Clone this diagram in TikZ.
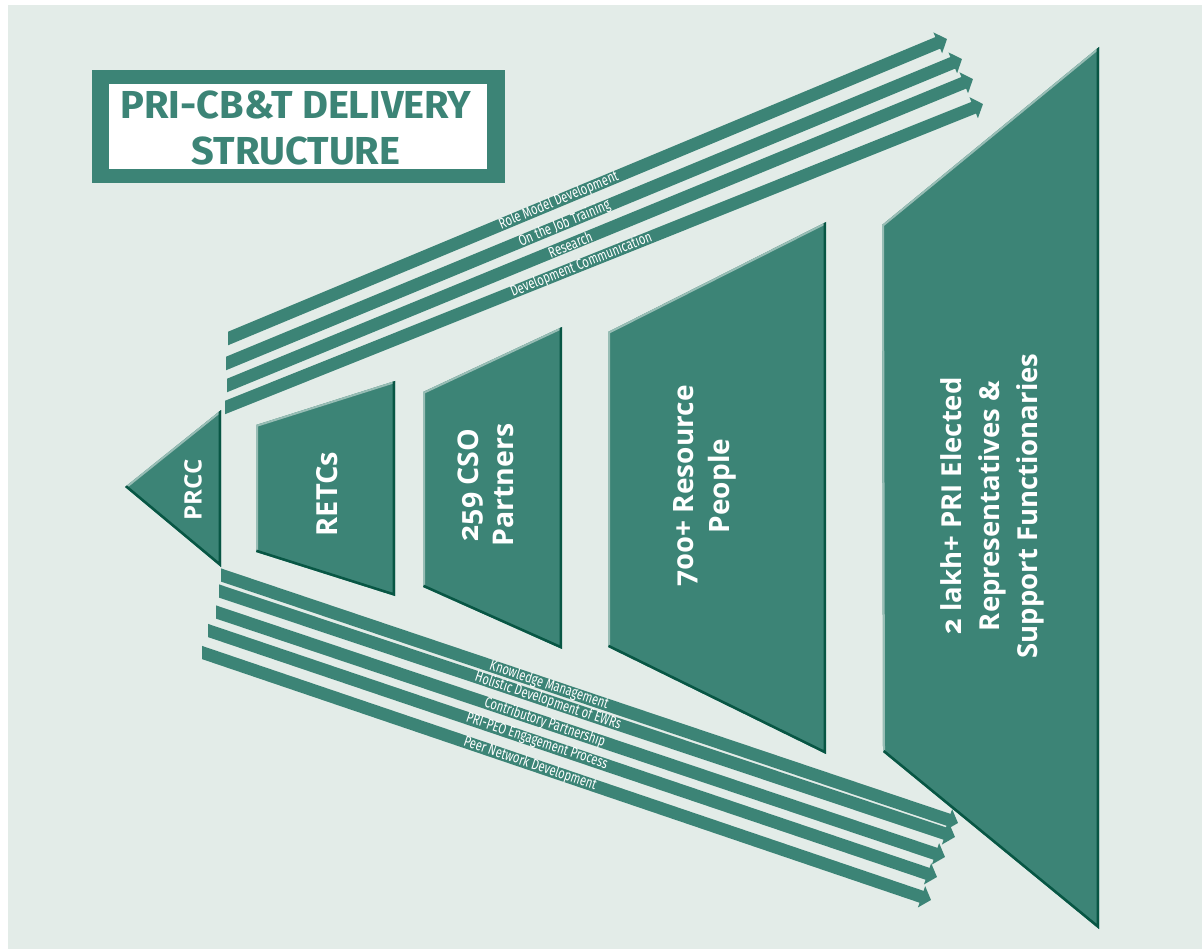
\documentclass[tikz,border=0pt]{standalone}
\usepackage{fontspec}
\usepackage{graphicx}
\setmainfont{Open Sans}[Numbers=OldStyle]
\newfontfamily\titlefont{Fira Sans}
\usetikzlibrary{arrows.meta,calc}
\definecolor{tealmain}{RGB}{60,132,118}
\definecolor{tealdark}{RGB}{8,86,68}
\definecolor{bgcol}{RGB}{227,236,232}
\newcommand\bandarrow[4]{%
  \begin{scope}
    \clip (#1,0) rectangle (1202,949);
    \draw[#4] ($(#2)!-20pt!(#3)$) -- (#3);
  \end{scope}}
\newcommand\stageshape[4]{%
  \begin{scope}
    \clip #1 -- #2 -- #3 -- #4 -- cycle;
    \fill[tealmain] #1 -- #2 -- #3 -- #4 -- cycle;
    \draw[lightedge] #4 -- #1 -- #2;
    \draw[darkedge] #4 -- #3 -- #2;
  \end{scope}}
\newcommand\lbl[1]{\scalebox{0.75}[1]{#1}}
\tikzset{
  bandup/.style={draw=tealmain, line width=12.5pt, -{Triangle[width=22pt,length=10pt]}},
  banddown/.style={draw=tealmain, line width=12.5pt, -{Triangle[width=22pt,length=10pt]}},
  bandlabel/.style={sloped, inner sep=0pt, text=white, font=\titlefont\fontsize{15}{15}\selectfont},
  darkedge/.style={draw=tealdark, line width=5pt},
  lightedge/.style={draw=tealmain!45!bgcol, line width=4pt},
  stagetext/.style={rotate=90, text=white, align=center, inner sep=0pt},
}
\begin{document}
\begin{tikzpicture}[x=1pt,y=-1pt]
\useasboundingbox (0,0) rectangle (1202,949);
\fill[bgcol] (8,5) rectangle (1202,949);

% title
\fill[tealmain] (92,70) rectangle (505,183);
\fill[white] (109,84) rectangle (487,169);
\node[text=tealmain, align=center, inner sep=0pt,
      font=\titlefont\bfseries\fontsize{39}{46}\selectfont] (title) at (296,128)
      {\scalebox{1.02}[1]{PRI-CB\&T DELIVERY}\\\scalebox{1.02}[1]{STRUCTURE}};

% stages
\stageshape{(125,487)}{(221,410)}{(221,567)}{(125,487)}
\stageshape{(256,425)}{(395,381)}{(395,596)}{(256,552)}
\stageshape{(423,392)}{(562,327)}{(562,649)}{(423,587)}
\stageshape{(608,332)}{(826,222)}{(826,754)}{(608,647)}
\stageshape{(882,225)}{(1099,47)}{(1099,929)}{(883,752)}

\node[stagetext, font=\bfseries\fontsize{24}{30}\selectfont] (prcc) at (193,490) {PRCC};
\node[stagetext, font=\bfseries\fontsize{29}{36}\selectfont] (retcs) at (327,494) {RETCs};
\node[stagetext, font=\bfseries\fontsize{28.5}{35}\selectfont] (cso) at (486,485) {259 CSO\\Partners};
\node[stagetext, font=\bfseries\fontsize{28}{36}\selectfont] (rp) at (705,486) {700+ Resource\\People};
\node[stagetext, font=\bfseries\fontsize{27.5}{38}\selectfont] (eri) at (992,506)
      {2 lakh+ PRI Elected\\Representatives \&\\Support Functionaries};

% upper arrows
\coordinate (t1) at (228,338.5); \coordinate (h1) at (947,39);
\coordinate (t2) at (226,363.5); \coordinate (h2) at (962,59);
\coordinate (t3) at (227,385.5); \coordinate (h3) at (973,79);
\coordinate (t4) at (225,407.5); \coordinate (h4) at (983,104);
\bandarrow{228}{t1}{h1}{bandup}
\bandarrow{226}{t2}{h2}{bandup}
\bandarrow{227}{t3}{h3}{bandup}
\bandarrow{225}{t4}{h4}{bandup}
\path (t1) -- (h1) node[bandlabel, pos=0.46] (u1) {\lbl{Role Model Development}};
\path (t2) -- (h2) node[bandlabel, pos=0.46] (u2) {\lbl{On the Job Training}};
\path (t3) -- (h3) node[bandlabel, pos=0.46] (u3) {\lbl{Research}};
\path (t4) -- (h4) node[bandlabel, pos=0.47] (u4) {\lbl{Development Communication}};

% lower arrows
\coordinate (b1) at (221,575);   \coordinate (e1) at (958,823);
\coordinate (b2) at (219,591);   \coordinate (e2) at (955,837);
\coordinate (b3) at (216,612);   \coordinate (e3) at (945,857);
\coordinate (b4) at (208,630.5); \coordinate (e4) at (937,877);
\coordinate (b5) at (202,652.5); \coordinate (e5) at (931,900);
\bandarrow{221}{b1}{e1}{banddown}
\bandarrow{219}{b2}{e2}{banddown}
\bandarrow{216}{b3}{e3}{banddown}
\bandarrow{208}{b4}{e4}{banddown}
\bandarrow{202}{b5}{e5}{banddown}
\path (b1) -- (e1) node[bandlabel, pos=0.445] (d1) {\lbl{Knowledge Management}};
\path (b2) -- (e2) node[bandlabel, pos=0.447] (d2) {\lbl{Holistic Development of EWRs}};
\path (b3) -- (e3) node[bandlabel, pos=0.451] (d3) {\lbl{Contributory Partnership}};
\path (b4) -- (e4) node[bandlabel, pos=0.451] (d4) {\lbl{PRI-PEO Engagement Process}};
\path (b5) -- (e5) node[bandlabel, pos=0.45] (d5) {\lbl{Peer Network Development}};
\end{tikzpicture}
\end{document}
